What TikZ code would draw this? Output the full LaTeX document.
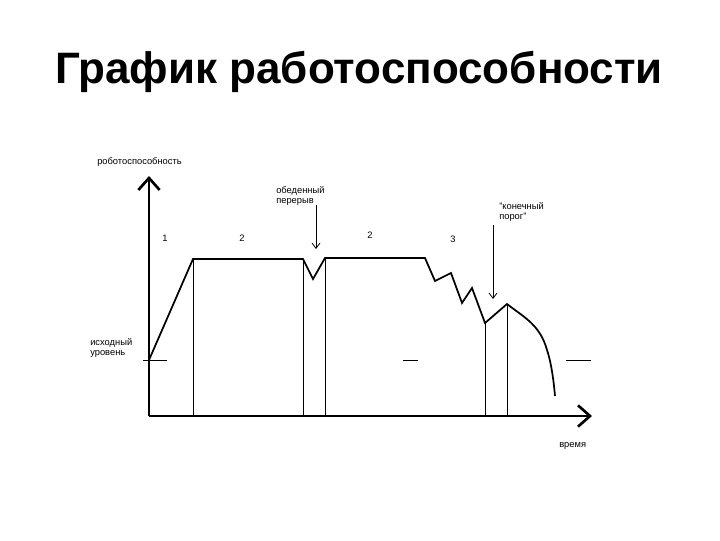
\documentclass[tikz,border=0pt]{standalone}
\usepackage{fontspec}
\setmainfont{Liberation Sans}
\usetikzlibrary{arrows.meta}
\begin{document}
\begin{tikzpicture}[x=0.75pt,y=-0.75pt,
  lbl/.style={font=\fontsize{7}{8}\selectfont,inner sep=0pt,align=left},
  axis/.style={line width=2pt,-{Straight Barb[length=9pt,width=16pt,line width=2pt]}},
  curve/.style={line width=1.3pt,line join=miter},
  thin/.style={line width=0.6pt},
  pointer/.style={line width=0.6pt,-{Straight Barb[length=4pt,width=6pt]}}]
\useasboundingbox (0,0) rectangle (720,540);
\node[font=\fontsize{33}{38}\selectfont\bfseries] (title) at (359,72) {График работоспособности};
\coordinate (O) at (149,416);
\coordinate (Ytop) at (149,176);
\coordinate (Xend) at (592,416);
\draw[axis] (O) -- (Ytop);
\draw[axis] (O) -- (Xend);
\draw[curve] (149,360) -- (193,259) -- (303,259) -- (313,279) -- (325,258) -- (425,258)
  -- (435,281) -- (451,273) -- (462,303) -- (472,288) -- (485,323) -- (507,304)
  .. controls (525,318) and (540,325) .. (547,350) .. controls (552,365) and (554,385) .. (555,396);
\foreach \x/\y in {193/259,303/259,325/258,485/323,507/304}
  \draw[thin] (\x,416) -- (\x,\y);
\draw[thin] (143,360) -- (167,360);
\draw[thin] (403,360) -- (418,360);
\draw[thin] (566,360) -- (591,360);
\coordinate (a1s) at (316,205); \coordinate (a1e) at (316,249);
\draw[pointer] (a1s) -- (a1e);
\coordinate (a2s) at (493,225); \coordinate (a2e) at (493,299);
\draw[pointer] (a2s) -- (a2e);
\node[lbl] (n1) at (165,238) {1};
\node[lbl] (n2) at (242,238) {2};
\node[lbl] (n3) at (370,235) {2};
\node[lbl] (n4) at (453,239) {3};
\node[lbl,anchor=west] (lunch) at (276,196) {обеденный\\перерыв};
\node[lbl,anchor=west] (thr) at (499,212) {"конечный\\порог"};
\node[lbl,anchor=west] (init) at (90,348) {исходный\\уровень};
\node[lbl,anchor=west] (ylab) at (97,162) {роботоспособность};
\node[lbl,anchor=west] (xlab) at (559,446) {время};
\end{tikzpicture}
\end{document}
